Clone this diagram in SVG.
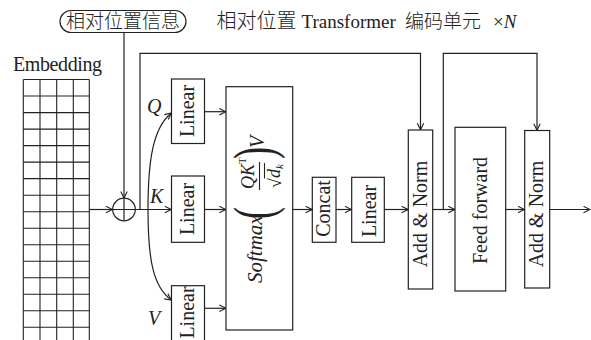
<svg xmlns="http://www.w3.org/2000/svg" width="591" height="340" viewBox="0 0 591 340">
<style>
.ln{fill:none;stroke:#222;stroke-width:1.2}
.bx{fill:#fff;stroke:#222;stroke-width:1.2}
.t{font-family:"Liberation Serif","Times New Roman",serif;font-size:20px;fill:#222}
.i{font-style:italic}
.cjk{font-family:"Liberation Serif","Noto Sans CJK SC",serif;font-size:19px;font-weight:300;fill:#222}
.g{stroke:#222;stroke-width:1.1;fill:none}
</style>
<defs>
<marker id="ah" viewBox="0 0 8 8" refX="7.5" refY="4" markerWidth="8" markerHeight="8" markerUnits="userSpaceOnUse" orient="auto">
<path d="M1,0.8 L7.5,4 L1,7.2" fill="none" stroke="#222" stroke-width="1.1"/>
</marker>
</defs>
<rect width="591" height="340" fill="#fff"/>

<g id="title">
<text class="cjk" x="216.5" y="28" style="font-size:20px">相对位置</text>
<text class="t" x="301.5" y="28" style="font-size:19px">Transformer</text>
<text class="cjk" x="405" y="28">编码单元</text>
<text class="t" x="493" y="28" style="font-size:19px">×<tspan class="i">N</tspan></text>
</g>

<g id="pos-info">
<rect class="bx" x="60" y="10.5" width="126" height="22" rx="11"/>
<text class="cjk" x="123" y="28" text-anchor="middle">相对位置信息</text>
</g>

<g id="embedding">
<text class="t" x="57.5" y="71" text-anchor="middle" textLength="89">Embedding</text>
<g class="g">
<path d="M23.3,79.5V340M40,79.5V340M56.7,79.5V340M73.3,79.5V340M89.3,79.5V340"/>
<path d="M23.3,79.5H89.3M23.3,96H89.3M23.3,112.6H89.3M23.3,129.1H89.3M23.3,145.6H89.3M23.3,162.1H89.3M23.3,178.6H89.3M23.3,195.2H89.3M23.3,211.7H89.3M23.3,228.2H89.3M23.3,244.7H89.3M23.3,261.2H89.3M23.3,277.8H89.3M23.3,294.3H89.3M23.3,310.8H89.3M23.3,327.3H89.3"/>
</g>
</g>

<g id="add-circle">
<circle class="bx" cx="124" cy="209.5" r="11.3"/>
<path class="ln" d="M112.7,209.5H135.3M124,198.2V220.8"/>
</g>

<g id="linear-q">
<rect class="bx" x="171.5" y="79" width="33" height="64.5"/>
<text class="t" transform="translate(194,111) rotate(-90)" text-anchor="middle">Linear</text>
</g>
<g id="linear-k">
<rect class="bx" x="171.5" y="176" width="33" height="66.3"/>
<text class="t" transform="translate(194,209) rotate(-90)" text-anchor="middle">Linear</text>
</g>
<g id="linear-v">
<rect class="bx" x="171.5" y="285.7" width="33" height="66"/>
<text class="t" transform="translate(194,312.5) rotate(-90)" text-anchor="middle">Linear</text>
</g>

<g id="attention">
<rect class="bx" x="226" y="86.7" width="66.7" height="243.3"/>
<g transform="rotate(-90)">
<text class="t i" x="-283" y="262" style="font-size:21px">Softmax</text>
<text class="t" transform="translate(-219,273.2) scale(1,1.6)" style="font-size:36px">(</text>
<text class="t i" x="-189" y="254" style="font-size:18px">QK<tspan style="font-size:11px;font-style:normal" dy="-8">T</tspan></text>
<line class="g" x1="-190" y1="259.5" x2="-162" y2="259.5"/>
<text class="t" x="-188" y="281" style="font-size:18px">√</text>
<line class="g" x1="-178.5" y1="264.5" x2="-163" y2="264.5"/>
<text class="t i" x="-178" y="280" style="font-size:18px">d<tspan style="font-size:11px" dy="3">k</tspan></text>
<text class="t" transform="translate(-159,273.2) scale(1,1.6)" style="font-size:36px">)</text>
<text class="t i" x="-148" y="264">V</text>
</g>
</g>

<g id="concat">
<rect class="bx" x="312.3" y="177.3" width="23.7" height="65"/>
<text class="t" transform="translate(330,208.5) rotate(-90)" text-anchor="middle">Concat</text>
</g>
<g id="linear-out">
<rect class="bx" x="351.7" y="177.3" width="32.6" height="65"/>
<text class="t" transform="translate(376,211) rotate(-90)" text-anchor="middle">Linear</text>
</g>
<g id="add-norm-1">
<rect class="bx" x="408.3" y="130" width="24.4" height="159"/>
<text class="t" transform="translate(427,214) rotate(-90)" text-anchor="middle">Add &amp; Norm</text>
</g>
<g id="feed-forward">
<rect class="bx" x="455" y="127.3" width="50.7" height="163.7"/>
<text class="t" transform="translate(487,210.5) rotate(-90)" text-anchor="middle">Feed forward</text>
</g>
<g id="add-norm-2">
<rect class="bx" x="524.7" y="130.5" width="25" height="157.5"/>
<text class="t" transform="translate(543,214) rotate(-90)" text-anchor="middle">Add &amp; Norm</text>
</g>

<g id="labels">
<text class="t i" x="147" y="113">Q</text>
<text class="t i" x="150" y="203">K</text>
<text class="t i" x="148" y="325">V</text>
</g>

<g id="connectors" class="ln">
<path d="M124,32.5V198" marker-end="url(#ah)"/>
<path d="M89.3,209.5H112.5" marker-end="url(#ah)"/>
<path d="M135.3,209.5H171.3" marker-end="url(#ah)"/>
<path d="M140,209.5V53.3H420.5V129.8" marker-end="url(#ah)"/>
<path d="M148,209.5C148,160 153,128 171.3,113" marker-end="url(#ah)"/>
<path d="M148,209.5C148,259 153,287 171.3,300" marker-end="url(#ah)"/>
<path d="M204.5,111.7H225.8" marker-end="url(#ah)"/>
<path d="M204.5,209.5H225.8" marker-end="url(#ah)"/>
<path d="M204.5,308.3H225.8" marker-end="url(#ah)"/>
<path d="M292.7,209.5H312.1" marker-end="url(#ah)"/>
<path d="M336,209.5H351.5" marker-end="url(#ah)"/>
<path d="M384.3,209.5H408.1" marker-end="url(#ah)"/>
<path d="M432.7,209.5H454.8" marker-end="url(#ah)"/>
<path d="M443.3,209.5V53.3H537V130.3" marker-end="url(#ah)"/>
<path d="M505.7,209.5H524.5" marker-end="url(#ah)"/>
<path d="M549.7,209.5H590" marker-end="url(#ah)"/>
</g>
</svg>
